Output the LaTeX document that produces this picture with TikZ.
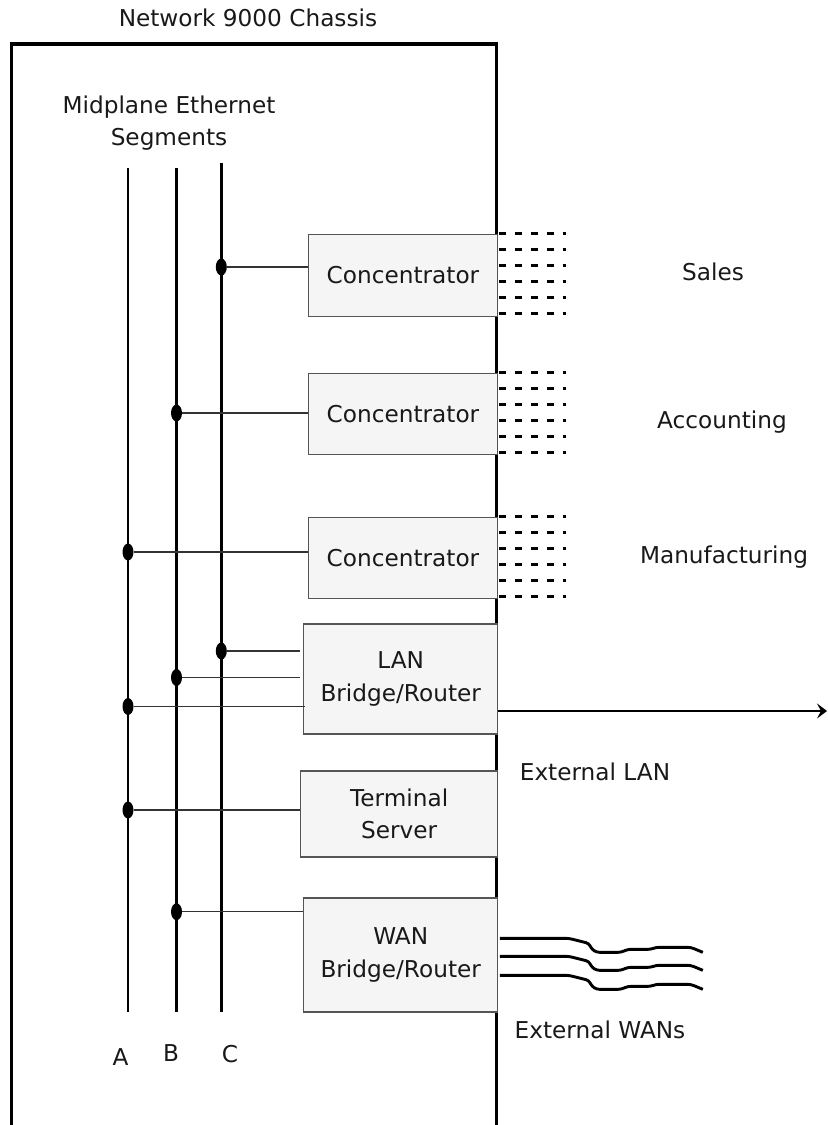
\documentclass[tikz,border=0pt]{standalone}
\usepackage{fontspec}
\setmainfont{DejaVu Sans}
\usetikzlibrary{arrows.meta,positioning,shapes.geometric}
\definecolor{nwgray}{RGB}{85,85,85}
\definecolor{nwfill}{RGB}{245,245,245}
\definecolor{nwtext}{RGB}{25,25,25}

\begin{document}
\begin{tikzpicture}[
    x=0.5pt,y=-0.5pt,
    font=\fontsize{11.6}{16.3}\selectfont,
    text=nwtext,
    unitbox/.style={draw=nwgray,fill=nwfill,line width=0.65pt,align=center,inner sep=0pt},
    chassis/.style={line width=1.65pt},
    segment/.style={line width=1.3pt},
    tap/.style={ellipse,fill=black,inner sep=0pt,minimum width=5.5pt,minimum height=8.5pt},
    stub/.style={line width=0.6pt,black!80},
    portline/.style={line width=1.5pt,dash pattern=on 3.75pt off 4.25pt},
    wanline/.style={line width=1.45pt,rounded corners=1.5pt},
    arrow/.style={-{Stealth[length=5pt,width=7.5pt,inset=2pt]},line width=0.6pt}
  ]
    \useasboundingbox (0,0) rectangle (827,1125);
    % chassis outline, open at the bottom
    \node (title) at (248,18) {Network 9000 Chassis};
    \draw[chassis] (11.5,1125) -- (11.5,44) -- (496.5,44) -- (496.5,1125);
    \node[align=center] (midplane) at (169,123) {Midplane Ethernet\\Segments};

    % midplane segments
    \coordinate (Atop) at (128,168);   \coordinate (Abot) at (128,1012);
    \coordinate (Btop) at (176.5,168); \coordinate (Bbot) at (176.5,1012);
    \coordinate (Ctop) at (221.3,163); \coordinate (Cbot) at (221.3,1012);
    \draw[segment] (Atop) -- (Abot);
    \draw[segment] (Btop) -- (Bbot);
    \draw[segment] (Ctop) -- (Cbot);
    \node (labA) at (120.5,1057) {A};
    \node (labB) at (171,1053) {B};
    \node (labC) at (230,1054.5) {C};

    % modules
    \node[unitbox,minimum width=94.5pt,minimum height=41pt] (con1) at (403,275.3) {Concentrator};
    \node[unitbox,minimum width=94.5pt,minimum height=40.7pt] (con2) at (403,414) {Concentrator};
    \node[unitbox,minimum width=94.5pt,minimum height=40.7pt] (con3) at (403,558) {Concentrator};
    \node[unitbox,minimum width=97pt,minimum height=55pt] (lan) at (400.7,679) {LAN\\Bridge/Router};
    \node[unitbox,minimum width=98.5pt,minimum height=43pt] (term) at (399.2,814) {Terminal\\Server};
    \node[unitbox,minimum width=97pt,minimum height=57pt] (wan) at (400.7,955) {WAN\\Bridge/Router};

    % taps on the segments
    \node[tap] (c1) at (221.3,267) {};
    \node[tap] (b2) at (176.5,413) {};
    \node[tap] (a3) at (128,552) {};
    \node[tap] (c4) at (221.3,651) {};
    \node[tap] (b4) at (176.5,677.5) {};
    \node[tap] (a4) at (128,706.5) {};
    \node[tap] (a5) at (128,810) {};
    \node[tap] (b6) at (176.5,911.7) {};
    \draw[stub] (c1) -- (c1 -| con1.west);
    \draw[stub] (b2) -- (b2 -| con2.west);
    \draw[stub] (a3) -- (a3 -| con3.west);
    \draw[stub,shorten >=1.5pt] (c4) -- (c4 -| lan.west);
    \draw[stub,shorten >=1.5pt] (b4) -- (b4 -| lan.west);
    \draw[stub,shorten >=-1.2pt] (a4) -- (a4 -| lan.west);
    \draw[stub] (a5) -- (a5 -| term.west);
    \draw[stub] (b6) -- (b6 -| wan.west);

    % concentrator ports
    \foreach \cn in {con1,con2,con3}
      \foreach \k in {0,...,5}
        \draw[portline] (\cn.north east) ++(0.5,\k*16) -- ++(67,0);
    \node (sales) at (713,272) {Sales};
    \node (acct) at (722,422) {Accounting};
    \node (manuf) at (724,557) {Manufacturing};

    % external links
    \coordinate (lanout) at (827,711);
    \draw[arrow] (lan.east |- lanout) -- (lanout);
    \node (extlan) at (595,772) {External LAN};
    \foreach \dy in {41,59,78}
      \draw[wanline] (wan.north east) ++(1.5,\dy) -- ++(69,0) -- ++(12,3) -- ++(8,2)
        -- ++(3,6) -- ++(5,3) -- ++(24,0) -- ++(7,-3) -- ++(23,0) -- ++(5,-2)
        -- ++(35,0) -- ++(12,5);
    \node (extwan) at (600,1030) {External WANs};
  \end{tikzpicture}
\end{document}
